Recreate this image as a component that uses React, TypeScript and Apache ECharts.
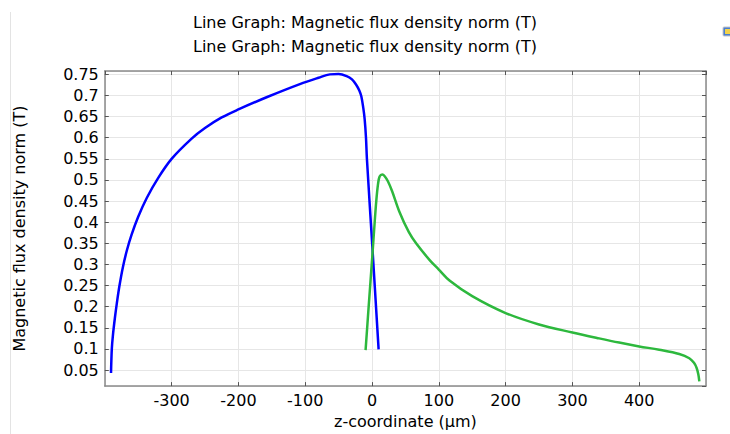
import React, { useEffect, useRef } from "react";
import * as echarts from "echarts";

const titleLines = [
  "Line Graph: Magnetic flux density norm (T)",
  "Line Graph: Magnetic flux density norm (T)",
];
const xName = "z-coordinate (µm)";
const yName = "Magnetic flux density norm (T)";

const blueZ = [-390.7, -389.5, -388, -385, -382, -378, -373, -367, -360, -350, -337, -320, -300, -270, -250, -225, -200, -156, -108, -80, -63, -50, -38, -30, -23.5, -19, -16, -13, -11, -9, -7.6, 0.4, 9.9];
const blueB = [0.043, 0.1, 0.13, 0.172, 0.208, 0.25, 0.293, 0.333, 0.37, 0.413, 0.458, 0.505, 0.55, 0.598, 0.623, 0.648, 0.667, 0.697, 0.727, 0.742, 0.75, 0.751, 0.746, 0.738, 0.725, 0.712, 0.698, 0.67, 0.644, 0.6, 0.55, 0.345, 0.099];

const greenZ = [-9.6, -5, 0.4, 4, 6.4, 9, 11.4, 15.4, 19, 23.8, 30, 41, 55, 66, 86, 100, 116, 150, 200, 250, 300, 340, 370, 400, 430, 460, 475, 482, 486, 488.5, 490];
const greenB = [0.097, 0.2, 0.318, 0.4, 0.45, 0.49, 0.508, 0.513, 0.509, 0.497, 0.474, 0.425, 0.377, 0.35, 0.311, 0.288, 0.262, 0.225, 0.185, 0.158, 0.139, 0.125, 0.115, 0.106, 0.098, 0.088, 0.078, 0.067, 0.055, 0.04, 0.023];

const FONT = "DejaVu Sans";

export default function App() {
  const ref = useRef<HTMLDivElement>(null);
  useEffect(() => {
    document.body.style.margin = "0";
    const chart = echarts.init(ref.current!, null, { renderer: "svg" });
    const pair = (xs: number[], ys: number[]) => xs.map((x, i) => [x, ys[i]]);
    const axisBox = { show: true, onZero: false, lineStyle: { color: "#8a8a8a", width: 1.5 } };
    const tickIn = { show: true, inside: true, length: 4, lineStyle: { color: "#555", width: 1 } };
    chart.setOption({
      animation: false,
      backgroundColor: "#fff",
      title: {
        text: titleLines.join("\n"),
        left: "center",
        top: 5,
        textStyle: { fontFamily: FONT, fontSize: 16, fontWeight: "normal", color: "#000", lineHeight: 24 },
      },
      grid: { left: 104.8, right: 24, top: 71, bottom: 42.7, containLabel: false },
      xAxis: [
        {
          type: "value",
          min: -400,
          max: 500,
          interval: 100,
          name: xName,
          nameLocation: "middle",
          nameGap: 24,
          nameTextStyle: { fontFamily: FONT, fontSize: 16, color: "#000" },
          axisLine: axisBox,
          axisTick: tickIn,
          axisLabel: { showMinLabel: false, showMaxLabel: false, fontFamily: FONT, fontSize: 16, color: "#000", margin: 6 },
          splitLine: { show: true, lineStyle: { color: "#e6e6e6", width: 1 } },
        },
        {
          type: "value",
          position: "top",
          min: -400,
          max: 500,
          interval: 100,
          axisLine: axisBox,
          axisTick: tickIn,
          axisLabel: { show: false },
          splitLine: { show: false },
        },
      ],
      yAxis: [
        {
          type: "value",
          min: 0.012,
          max: 0.758,
          splitNumber: 15,
          name: yName,
          nameLocation: "middle",
          nameGap: 77,
          nameTextStyle: { fontFamily: FONT, fontSize: 16, color: "#000" },
          axisLine: axisBox,
          axisTick: tickIn,
          axisLabel: {
            showMinLabel: false,
            showMaxLabel: false,
            fontFamily: FONT,
            fontSize: 16,
            color: "#000",
            margin: 6,
            formatter: (v: number) => String(Math.round(v * 100) / 100),
          },
          splitLine: { show: true, lineStyle: { color: "#e6e6e6", width: 1 } },
        },
        {
          type: "value",
          position: "right",
          min: 0.012,
          max: 0.758,
          splitNumber: 15,
          axisLine: axisBox,
          axisTick: tickIn,
          axisLabel: { show: false },
          splitLine: { show: false },
        },
      ],
      series: [
        {
          type: "line",
          data: pair(blueZ, blueB),
          showSymbol: false,
          smooth: 0.35,
          lineStyle: { color: "#0000ff", width: 2.5 },
          itemStyle: { color: "#0000ff" },
        },
        {
          type: "line",
          data: pair(greenZ, greenB),
          showSymbol: false,
          smooth: 0.35,
          lineStyle: { color: "#2db83d", width: 2.5 },
          itemStyle: { color: "#2db83d" },
        },
      ],
      graphic: [
        { type: "line", shape: { x1: 10.5, y1: 12, x2: 10.5, y2: 434 }, style: { stroke: "#e3e3e3", lineWidth: 1 } },
        { type: "rect", shape: { x: 723, y: 27, width: 8, height: 9, r: 1 }, style: { fill: "#4a7fd0", stroke: "#c8c8c8", lineWidth: 1 } },
        { type: "rect", shape: { x: 725, y: 29, width: 6, height: 5 }, style: { fill: "#f2d24a" } },
      ],
    });
    return () => chart.dispose();
  }, []);
  return <div ref={ref} style={{ width: 730, height: 434 }} />;
}
